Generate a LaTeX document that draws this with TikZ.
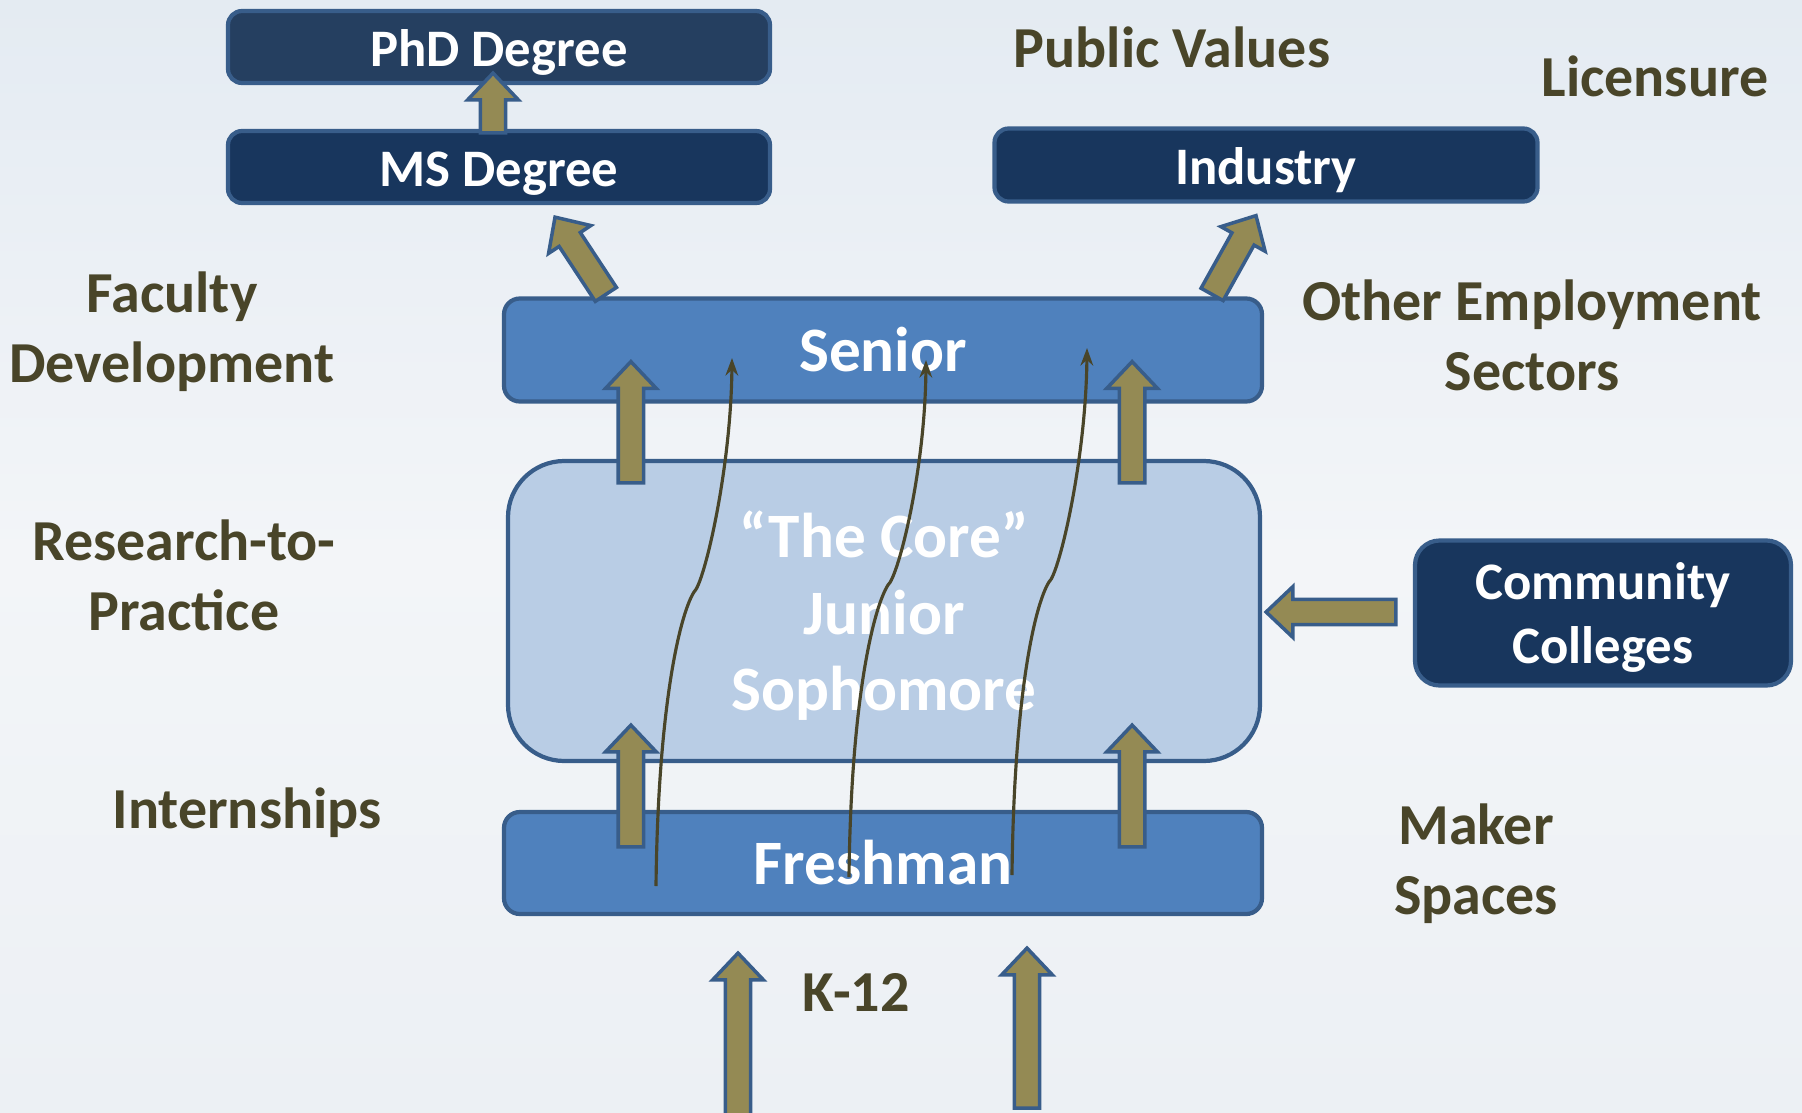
\documentclass[tikz,border=0pt]{standalone}
\usepackage{fontspec}
\setmainfont{Carlito}
\usepackage{tikz}
\usetikzlibrary{
    arrows.meta,
    calc,
    positioning
}
\definecolor{skytop}{RGB}{228, 235, 242}
\definecolor{skymid}{RGB}{243, 245, 248}
\definecolor{skybottom}{RGB}{236, 240, 244}
\definecolor{phdnavy}{RGB}{37, 63, 96}
\definecolor{navy}{RGB}{24, 54, 93}
\definecolor{boxframe}{RGB}{56, 93, 138}
\definecolor{yearblue}{RGB}{79, 129, 189}
\definecolor{corelight}{RGB}{185, 205, 229}
\definecolor{olivearrow}{RGB}{148, 138, 84}
\definecolor{olivetext}{RGB}{73, 69, 41}
\tikzstyle{darkbox} = [
    rectangle,
    rounded corners=4pt,
    draw=boxframe,
    line width=1.2pt,
    fill=navy,
    text=white,
    align=center,
    font=\fontsize{15}{18}\selectfont\bfseries
]
\tikzstyle{oneline} = [
    text height=11.8pt,
    text depth=0.8pt
]
\tikzstyle{yearbox} = [
    rectangle,
    rounded corners=4.5pt,
    draw=boxframe,
    line width=1.2pt,
    fill=yearblue,
    text=white,
    align=center,
    font=\fontsize{18}{21.6}\selectfont\bfseries
]
\tikzstyle{sidetext} = [
    text=olivetext,
    align=center,
    font=\fontsize{16.5}{19.9}\selectfont\bfseries
]
\tikzstyle{fat} = [
    draw=boxframe,
    fill=olivearrow,
    line width=1pt
]
\tikzstyle{flow} = [
    draw=olivetext,
    line width=0.9pt,
    -{Stealth[length=5pt,width=3.6pt]}
]
% block arrow from #1 (tail) to #2 (tip)
\newcommand{\fatarrow}[2]{%
    \draw[fat] let \p1=(#1), \p2=(#2),
        \n1={atan2(\y2-\y1,\x2-\x1)}, \n2={veclen(\x2-\x1,\y2-\y1)} in
        [shift={(\p1)}, rotate=\n1]
        (0pt,-3.6pt) -- (\n2-7.6pt,-3.6pt) -- (\n2-7.6pt,-7.2pt) -- (\n2,0pt)
        -- (\n2-7.6pt,7.2pt) -- (\n2-7.6pt,3.6pt) -- (0pt,3.6pt) -- cycle;}

\begin{document}
\begin{tikzpicture}[x=0.1mm, y=-0.1mm]
    % Sky
    \path[use as bounding box, top color=skytop, bottom color=skybottom, middle color=skymid]
        (0,0) rectangle (1802,1113);

    % Degrees and industry
    \node[darkbox, oneline, fill=phdnavy, minimum width=54.2mm, minimum height=7.2mm] (phd) at (499,47) {PhD Degree};
    \node[darkbox, oneline, minimum width=54.2mm, minimum height=7.2mm] (ms) at (499,167) {MS Degree};
    \node[darkbox, oneline, minimum width=54.3mm, minimum height=7.3mm] (industry) at (1266,165) {Industry};

    % Years
    \node[yearbox, minimum width=75.8mm, minimum height=10.3mm] (senior) at (883,350) {Senior};
    \node[yearbox, fill=corelight, rounded corners=16pt, minimum width=75.2mm, minimum height=30.0mm,
        text depth=0pt, font=\fontsize{18}{21.8}\selectfont\bfseries] (core) at (884,611) {“The Core”\\Junior\\Sophomore};
    \node[yearbox, minimum width=75.8mm, minimum height=10.2mm] (freshman) at (883,863) {Freshman};

    % Community colleges
    \node[darkbox, rounded corners=7pt, text depth=0pt, minimum width=37.6mm, minimum height=14.5mm] (cc) at (1603,613) {Community\\Colleges};

    % Side labels
    \node[sidetext] (public) at (1172,47) {Public Values};
    \node[sidetext] (licensure) at (1655,76) {Licensure};
    \node[sidetext] (faculty) at (172,332) {Faculty\\Development};
    \node[sidetext] (other) at (1532,335) {Other Employment\\Sectors};
    \node[sidetext] (research) at (184,575) {Research-to-\\Practice};
    \node[sidetext] (intern) at (247,813) {Internships};
    \node[sidetext] (maker) at (1476,864) {Maker\\Spaces};
    \node[sidetext] (k12) at (856,992) {K-12};

    % Block arrows
    \coordinate (k12left) at (738,1120);
    \coordinate (k12right) at (1027,1108);
    \fatarrow{$(ms.north)+(-6,4)$}{$(phd.south)+(-6,-12)$}
    \fatarrow{$(senior.north west)+(104,-2)$}{$(ms.south)+(56,12)$}
    \fatarrow{$(senior.north east)+(-52,-2)$}{$(industry.south)+(-10,12)$}
    \fatarrow{$(core.north west)+(125,24)$}{$(senior.south west)+(129,-42)$}
    \fatarrow{$(core.north east)+(-130,24)$}{$(senior.south east)+(-132,-42)$}
    \fatarrow{$(freshman.north west)+(129,37)$}{$(core.south west)+(125,-38)$}
    \fatarrow{$(freshman.north east)+(-132,37)$}{$(core.south east)+(-130,-38)$}
    \fatarrow{k12left}{$(freshman.south)+(-145,37)$}
    \fatarrow{k12right}{$(freshman.south)+(144,32)$}
    \fatarrow{$(cc.west)+(-17,-1)$}{$(core.east)+(4,1)$}

    % Student paths
    \coordinate (a1) at (656,886); \coordinate (k1) at (694,592); \coordinate (t1) at (732,358);
    \coordinate (a2) at (849,877); \coordinate (k2) at (888,585); \coordinate (t2) at (926,360);
    \coordinate (a3) at (1012,875); \coordinate (k3) at (1049,582); \coordinate (t3) at (1087,348);
    \draw[flow] (a1) .. controls +(2,-180) and +(-14,22) .. (k1) .. controls +(10,-8) and +(-1,112) .. (t1);
    \draw[flow] (a2) .. controls +(2,-180) and +(-14,22) .. (k2) .. controls +(10,-8) and +(-1,112) .. (t2);
    \draw[flow] (a3) .. controls +(2,-180) and +(-14,22) .. (k3) .. controls +(10,-8) and +(-1,112) .. (t3);
\end{tikzpicture}
\end{document}
